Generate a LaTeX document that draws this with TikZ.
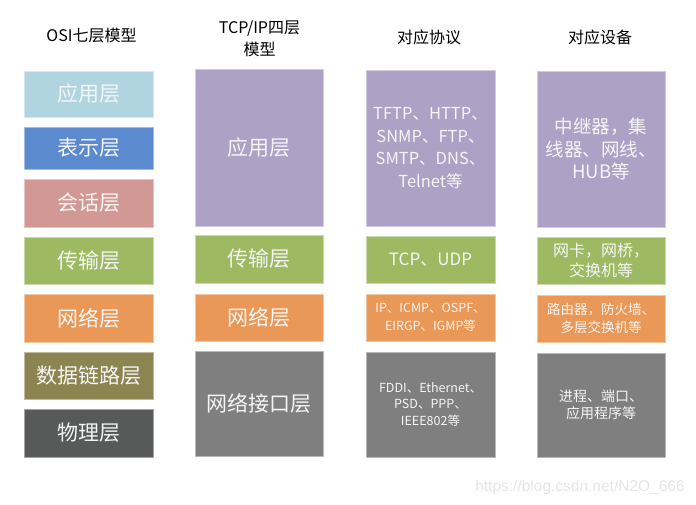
\documentclass[tikz,border=0pt]{standalone}
\usepackage{fontspec}
\setmainfont{Noto Sans CJK SC}
\newfontfamily\wmfont{Liberation Sans}
\definecolor{cAppL}{HTML}{B0D5E0}
\definecolor{cPres}{HTML}{5C8ACE}
\definecolor{cSess}{HTML}{D29894}
\definecolor{cTrans}{HTML}{9DBA62}
\definecolor{cNet}{HTML}{E99857}
\definecolor{cLink}{HTML}{8C8552}
\definecolor{cPhys}{HTML}{575A58}
\definecolor{cPurp}{HTML}{ADA1C5}
\definecolor{cGray}{HTML}{7F7F7F}
\begin{document}
\begin{tikzpicture}[x=1pt,y=-1pt,
  layerbox/.style={fill=#1, draw=#1!55!white, line width=0.8pt, inner sep=0pt,
    text=white!96!black, align=center},
  bigtxt/.style={font=\fontsize{21}{25}\selectfont},
  hdr/.style={font=\fontsize{16}{22}\selectfont, align=center, text=black},
]
\useasboundingbox (0,0) rectangle (696,505);
% headers
\node[hdr] (h1) at (91.5,35) {OSI七层模型};
\node[hdr] (h2) at (259.5,39) {TCP/IP四层\\模型};
\node[hdr] (h3) at (429,37) {对应协议};
\node[hdr] (h4) at (600,37) {对应设备};
% OSI column
\node[layerbox=cAppL, bigtxt, minimum width=129pt, minimum height=46pt] (o1) at (88.5,94) {应用层};
\node[layerbox=cPres, bigtxt, minimum width=129pt, minimum height=42pt] (o2) at (88.5,148) {表示层};
\node[layerbox=cSess, bigtxt, minimum width=129pt, minimum height=48pt] (o3) at (88.5,203) {会话层};
\node[layerbox=cTrans, bigtxt, minimum width=129pt, minimum height=47pt] (o4) at (88.5,260.5) {传输层};
\node[layerbox=cNet, bigtxt, minimum width=129pt, minimum height=48pt] (o5) at (88.5,318) {网络层};
\node[layerbox=cLink, bigtxt, minimum width=129pt, minimum height=47pt] (o6) at (88.5,375.5) {数据链路层};
\node[layerbox=cPhys, bigtxt, minimum width=129pt, minimum height=48pt] (o7) at (88.5,433) {物理层};
% TCP/IP column
\node[layerbox=cPurp, bigtxt, minimum width=128pt, minimum height=157pt] (t1) at (259,147.5) {应用层};
\node[layerbox=cTrans, bigtxt, minimum width=128pt, minimum height=48pt] (t2) at (259,259) {传输层};
\node[layerbox=cNet, bigtxt, minimum width=128pt, minimum height=47pt] (t3) at (259,317.5) {网络层};
\node[layerbox=cGray, bigtxt, minimum width=128pt, minimum height=105pt] (t4) at (259,403.5) {网络接口层};
% protocols column
\node[layerbox=cPurp, minimum width=129pt, minimum height=156pt, font=\fontsize{16.5}{22.5}\selectfont] (p1) at (430.5,148) {TFTP、HTTP、\\SNMP、FTP、\\SMTP、DNS、\\Telnet等};
\node[layerbox=cTrans, minimum width=129pt, minimum height=47pt, font=\fontsize{17}{22}\selectfont] (p2) at (430.5,259.5) {TCP、UDP};
\node[layerbox=cNet, minimum width=129pt, minimum height=47pt, font=\fontsize{12.5}{17.5}\selectfont] (p3) at (430.5,317.5) {IP、ICMP、OSPF、\\EIRGP、IGMP等};
\node[layerbox=cGray, minimum width=129pt, minimum height=105pt, font=\fontsize{12.5}{16.5}\selectfont] (p4) at (430.5,404.5) {FDDI、Ethernet、\\PSD、PPP、\\IEEE802等};
% devices column
\node[layerbox=cPurp, minimum width=128pt, minimum height=156pt, font=\fontsize{18.5}{22.5}\selectfont] (d1) at (601,149) {中继器，集\\线器、网线、\\HUB等};
\node[layerbox=cTrans, minimum width=128pt, minimum height=47pt, font=\fontsize{16}{20}\selectfont] (d2) at (601,260.5) {网卡，网桥，\\交换机等};
\node[layerbox=cNet, minimum width=128pt, minimum height=47pt, font=\fontsize{13.5}{18}\selectfont] (d3) at (601,318.5) {路由器，防火墙、\\多层交换机等};
\node[layerbox=cGray, minimum width=128pt, minimum height=104pt, font=\fontsize{14}{17}\selectfont] (d4) at (601,405) {进程、端口、\\应用程序等};
% watermark
\node[text=black!10, font=\wmfont\fontsize{15.5}{18}\selectfont] (wm) at (580,487) {https://blog.csdn.net/N2O\_666};
\end{tikzpicture}
\end{document}
